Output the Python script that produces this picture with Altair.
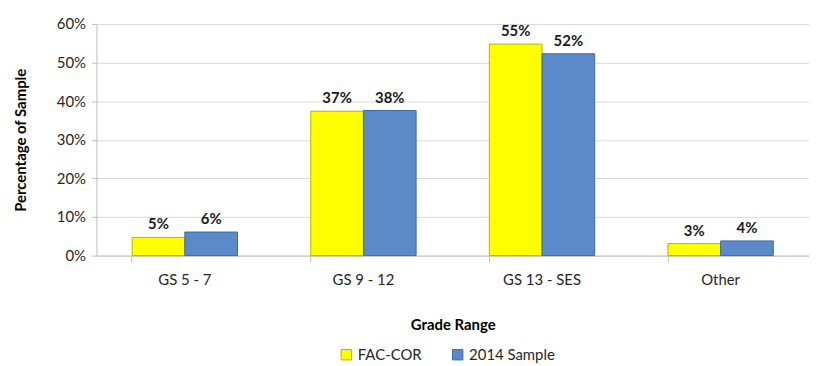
import altair as alt
import pandas as pd

categories = ["GS 5 - 7", "GS 9 - 12", "GS 13 - SES", "Other"]
series_names = ["FAC-COR", "2014 Sample"]
fac_cor = [0.047, 0.374, 0.548, 0.031]
sample_2014 = [0.061, 0.376, 0.523, 0.038]

rows = []
for i, c in enumerate(categories):
    rows.append({"cat": c, "series": series_names[0], "value": fac_cor[i]})
    rows.append({"cat": c, "series": series_names[1], "value": sample_2014[i]})
df = pd.DataFrame(rows)

FONT = "Lato"

x = alt.X("cat:N", sort=categories, title="Grade Range",
          scale=alt.Scale(paddingInner=0.41, paddingOuter=0.2),
          axis=alt.Axis(labelAngle=0, bandPosition=0, tickColor="#bfbfbf", domainColor="#bfbfbf",
                        tickSize=6, labelPadding=11, labelFontSize=15, labelColor="#262626",
                        titleFontSize=15, titleFontWeight="bold", titlePadding=30, titleColor="#000000",
                        labelFont=FONT, titleFont=FONT, grid=False))
xo = alt.XOffset("series:N", sort=series_names)
y = alt.Y("value:Q", title="Percentage of Sample",
          scale=alt.Scale(domain=[0, 0.6]),
          axis=alt.Axis(format=".0%", values=[0, 0.1, 0.2, 0.3, 0.4, 0.5, 0.6],
                        gridColor="#d9d9d9", domainColor="#bfbfbf", tickColor="#bfbfbf",
                        tickSize=5, labelFontSize=15, labelColor="#262626", labelPadding=6,
                        titleFontSize=15, titleFontWeight="bold", titleColor="#000000",
                        titlePadding=28, labelFont=FONT, titleFont=FONT, labelOverlap=False))

base = alt.Chart(df)

bars = base.mark_bar(strokeWidth=1).encode(
    x=x,
    xOffset=xo,
    y=y,
    color=alt.Color("series:N", sort=series_names,
                    scale=alt.Scale(domain=series_names, range=["#FFFF00", "#5A8BC8"]),
                    legend=alt.Legend(orient="none", legendX=244, legendY=325,
                                      direction="horizontal", title=None,
                                      symbolType="square", symbolSize=110, labelFontSize=15,
                                      labelFont=FONT, labelColor="#262626", columnPadding=28,
                                      symbolStrokeWidth=1)),
    stroke=alt.Stroke("series:N", sort=series_names,
                      scale=alt.Scale(domain=series_names, range=["#B5B500", "#3F6A9E"]),
                      legend=None),
)

labels = base.mark_text(dy=-13, fontSize=15, fontWeight="bold", font=FONT, color="#1a1a1a").encode(
    x=x,
    xOffset=xo,
    y=y,
    text=alt.Text("value:Q", format=".0%"),
)

chart = (bars + labels).properties(
    width=717, height=233,
    padding={"left": 5, "top": 8, "right": 0, "bottom": 5},
).configure_view(stroke=None)

chart.save("out.html", embed_options={"renderer": "svg", "actions": False})
